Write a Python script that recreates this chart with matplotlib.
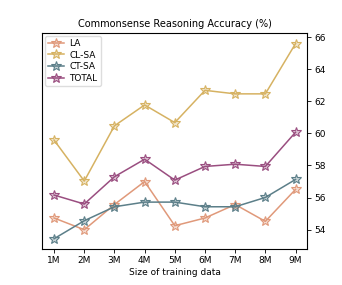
import matplotlib.pyplot as plt

sizes = ['1M', '2M', '3M', '4M', '5M', '6M', '7M', '8M', '9M']

la    = [54.73, 54.00, 55.57, 57.00, 54.25, 54.73, 55.57, 54.52, 56.51]
cl_sa = [59.58, 57.03, 60.47, 61.77, 60.67, 62.68, 62.46, 62.46, 65.59]
ct_sa = [53.44, 54.56, 55.43, 55.72, 55.72, 55.43, 55.43, 56.01, 57.13]
total = [56.16, 55.60, 57.30, 58.39, 57.09, 57.94, 58.08, 57.94, 60.07]

series = [
    ('LA',    la,    '#E0997A'),
    ('CL-SA', cl_sa, '#D6B262'),
    ('CT-SA', ct_sa, '#5C7F89'),
    ('TOTAL', total, '#9A4E80'),
]

plt.rcParams['font.size'] = 6.5

fig = plt.figure(figsize=(3.42, 2.85), dpi=100)
ax = fig.add_axes([42/342, 1 - 249/285, (307-42)/342, (249-33)/285])

xs = list(range(1, len(sizes) + 1))
for name, ys, col in series:
    ax.plot(xs, ys, color=col, lw=1.1, marker='*', ms=7,
            markerfacecolor=col + '55', markeredgecolor=col, markeredgewidth=0.8,
            label=name)

ax.yaxis.tick_right()
ax.set_yticks([54, 56, 58, 60, 62, 64, 66])
ax.set_ylim(52.8, 66.25)
ax.set_xlim(0.6, 9.38)
ax.set_xticks(xs)
ax.set_xticklabels(sizes)
ax.tick_params(length=3, width=0.6, pad=2)
for s in ax.spines.values():
    s.set_linewidth(0.8)

ax.set_xlabel('Size of training data', labelpad=2)
ax.set_title('Commonsense Reasoning Accuracy (%)', fontsize=7, pad=4)
ax.legend(loc='upper left', fontsize=6.5, handlelength=1.8, handletextpad=0.6,
          borderpad=0.35, labelspacing=0.3, borderaxespad=0.3,
          framealpha=1, edgecolor='#dddddd')

plt.savefig('out.png', dpi=100)
